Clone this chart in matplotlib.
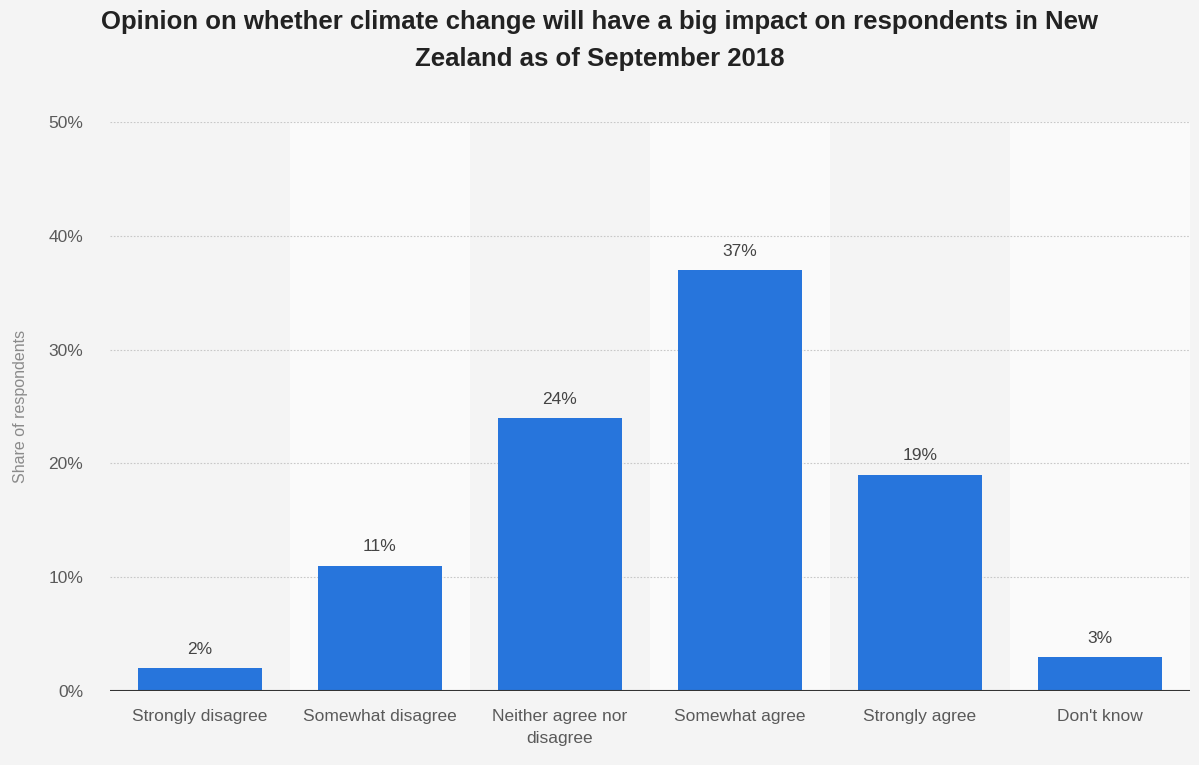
import numpy as np
import matplotlib
matplotlib.use("Agg")
import matplotlib.pyplot as plt

plt.rcParams['font.family'] = ['Liberation Sans', 'DejaVu Sans']

categories = ["Strongly disagree", "Somewhat disagree", "Neither agree nor\ndisagree",
              "Somewhat agree", "Strongly agree", "Don't know"]
values = [2, 11, 24, 37, 19, 3]
yticks = [0, 10, 20, 30, 40, 50]

bg = '#f4f4f4'
fig = plt.figure(figsize=(11.99, 7.65), dpi=100, facecolor=bg)
ax = fig.add_axes([0.0915, 0.0967, 0.9010, 0.7438])
ax.set_facecolor(bg)

x = np.arange(len(categories))
# alternating column bands
for i in x:
    if i % 2 == 1:
        ax.axvspan(i - 0.5, i + 0.5, color='#fafafa', zorder=0, lw=0)

ax.set_xlim(-0.5, len(categories) - 0.5)
ax.set_ylim(0, 50)

for t in yticks[1:]:
    ax.axhline(t, color='#c8c8c8', lw=0.8, ls=(0, (1.5, 1.5)), zorder=1)

ax.bar(x, values, width=0.69, color='#2775dc', zorder=2)
ax.axhline(0, color='#333333', lw=1.5, zorder=3)

for xi, v in zip(x, values):
    ax.text(xi, v + 1.0, f"{v}%", ha='center', va='bottom', fontsize=12.5, color='#444444')

ax.set_xticks(x)
ax.set_xticklabels(categories, fontsize=12.5, color='#5a5a5a', linespacing=1.55)
ax.set_yticks(yticks)
ax.set_yticklabels([f"{t}%" for t in yticks], fontsize=12.5, color='#5a5a5a')
ax.tick_params(axis='both', length=0)
ax.tick_params(axis='x', pad=13)
ax.tick_params(axis='y', pad=19)
for s in ax.spines.values():
    s.set_visible(False)

fig.text(0.0175, 0.469, "Share of respondents", rotation=90, fontsize=11.5, color='#8a8a8a',
         ha='center', va='center', transform=fig.transFigure)
fig.text(0.5, 0.947, "Opinion on whether climate change will have a big impact on respondents in New\nZealand as of September 2018",
         ha='center', va='center', fontsize=18.5, fontweight='bold', color='#222222', linespacing=1.7)

fig.savefig("out.png", dpi=100, facecolor=bg)
